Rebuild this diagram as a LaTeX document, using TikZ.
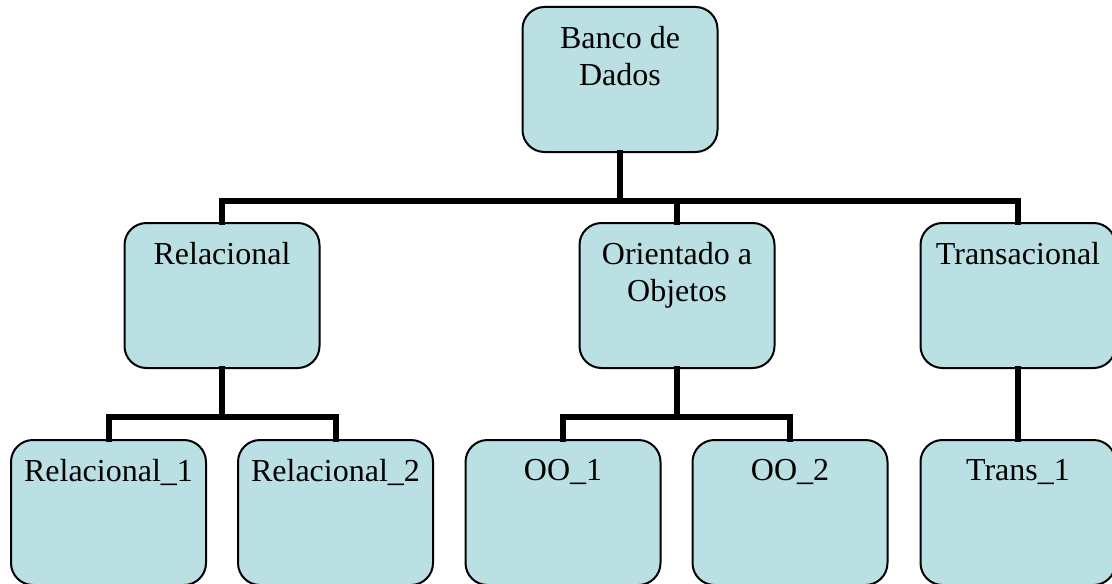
\documentclass[tikz,border=0pt]{standalone}
\usepackage{fontspec}
\setmainfont{Liberation Serif}
\definecolor{boxfill}{HTML}{BBE0E3}
\tikzset{
  orgbox/.style={draw=black, line width=1pt, fill=boxfill, rounded corners=11pt,
    minimum width=97.5pt, minimum height=72.5pt, inner sep=0pt},
  orglabel/.style={anchor=north, inner sep=0pt, align=center,
    font=\fontsize{16}{18.5}\selectfont},
  conn/.style={line width=3pt, line join=miter, line cap=rect}
}
\begin{document}
\begin{tikzpicture}[x=0.5pt, y=-0.5pt]
\useasboundingbox (0,0) rectangle (1112,583);
\clip (0,0) rectangle (1112,583);

% bus levels
\coordinate (busA) at (0,200.5);
\coordinate (busB) at (0,417);

% boxes
\node[orgbox] (db)   at (620,79.5)   {};
\node[orgbox] (rel)  at (222,295.5)  {};
\node[orgbox] (oo)   at (677,295.5)  {};
\node[orgbox] (tr)   at (1018,295.5) {};
\node[orgbox] (rel1) at (108.5,512.5) {};
\node[orgbox] (rel2) at (335.5,512.5) {};
\node[orgbox] (oo1)  at (563,512.5)  {};
\node[orgbox] (oo2)  at (790,512.5)  {};
\node[orgbox] (tr1)  at (1018,512.5) {};

% captions
\node[orglabel] (dbT)   at ([yshift=-10pt]db.north)   {Banco de\\Dados};
\node[orglabel] (relT)  at ([yshift=-10pt]rel.north)  {Relacional};
\node[orglabel] (ooT)   at ([yshift=-10pt]oo.north)   {Orientado a\\Objetos};
\node[orglabel] (trT)   at ([yshift=-10pt]tr.north)   {Transacional};
\node[orglabel] (rel1T) at ([yshift=-10pt]rel1.north) {Relacional\_1};
\node[orglabel] (rel2T) at ([yshift=-10pt]rel2.north) {Relacional\_2};
\node[orglabel] (oo1T)  at ([yshift=-10pt]oo1.north)  {OO\_1};
\node[orglabel] (oo2T)  at ([yshift=-10pt]oo2.north)  {OO\_2};
\node[orglabel] (tr1T)  at ([yshift=-10pt]tr1.north)  {Trans\_1};

% connectors
\foreach \c in {rel, oo, tr}
  \draw[conn] (db.south) -- (db.south |- busA) -| (\c.north);
\foreach \c in {rel1, rel2}
  \draw[conn] (rel.south) -- (rel.south |- busB) -| (\c.north);
\foreach \c in {oo1, oo2}
  \draw[conn] (oo.south) -- (oo.south |- busB) -| (\c.north);
\draw[conn] (tr.south) -- (tr1.north);
\end{tikzpicture}
\end{document}
